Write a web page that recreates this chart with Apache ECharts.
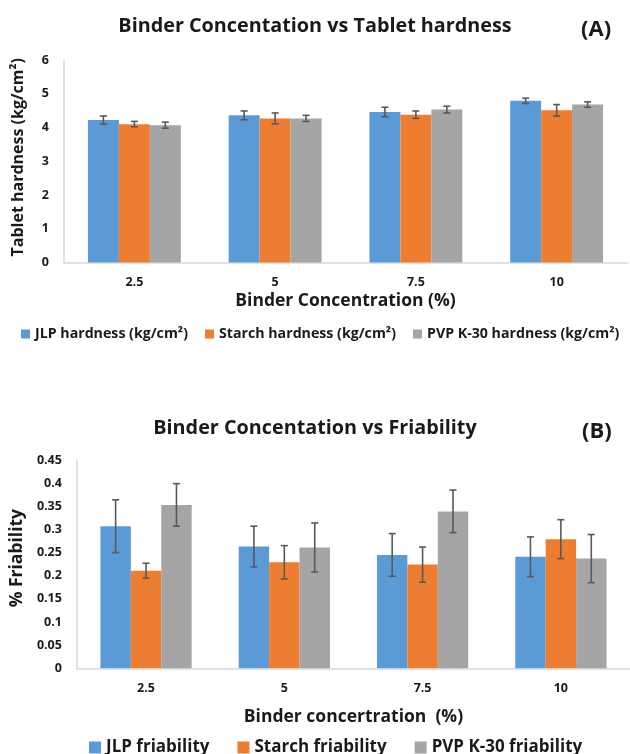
<!DOCTYPE html>
<html>
<head>
<meta charset="utf-8">
<script src="https://cdn.jsdelivr.net/npm/echarts@6/dist/echarts.min.js"></script>
<style>
  html, body { margin: 0; padding: 0; background: #fff; }
  #main { width: 630px; height: 754px; }
</style>
</head>
<body>
<div id="main"></div>
<script>
// categories (binder concentration %)
const categories = ['2.5', '5', '7.5', '10'];

// (A) tablet hardness, kg/cm2
const jlpHardness = [4.22, 4.36, 4.46, 4.79];
const jlpHardnessErr = [0.12, 0.13, 0.14, 0.08];
const starchHardness = [4.10, 4.27, 4.38, 4.51];
const starchHardnessErr = [0.08, 0.16, 0.11, 0.17];
const pvpHardness = [4.07, 4.27, 4.53, 4.68];
const pvpHardnessErr = [0.09, 0.09, 0.10, 0.08];

// (B) friability, %
const jlpFriab = [0.307, 0.263, 0.245, 0.241];
const jlpFriabErr = [0.057, 0.044, 0.046, 0.043];
const starchFriab = [0.211, 0.229, 0.224, 0.279];
const starchFriabErr = [0.016, 0.036, 0.038, 0.042];
const pvpFriab = [0.353, 0.261, 0.339, 0.237];
const pvpFriabErr = [0.046, 0.053, 0.046, 0.052];

const BLUE = '#5B9BD5', ORANGE = '#ED7D31', GRAY = '#A5A5A5';
const FONT = 'Open Sans';
const TEXT = '#1a1a1a';
const GAP = 0.34;

// build [index, low, high] rows for the error bars
const errRows = (vals, errs) => vals.map((v, i) => [i, v - errs[i], v + errs[i]]);

// error bar drawn at the bar's offset inside the group (-1, 0, 1)
const errorSeries = (vals, errs, offset, axisIdx) => ({
  type: 'custom',
  xAxisIndex: axisIdx,
  yAxisIndex: axisIdx,
  z: 10,
  silent: true,
  data: errRows(vals, errs),
  encode: { x: 0, y: [1, 2] },
  renderItem: (params, api) => {
    const hi = api.coord([api.value(0), api.value(2)]);
    const lo = api.coord([api.value(0), api.value(1)]);
    const bw = api.size([1, 0])[0] * (1 - GAP) / 3;
    const x = hi[0] + offset * bw;
    const cap = 3.5;
    const style = { stroke: '#595959', lineWidth: 1.6 };
    return {
      type: 'group',
      children: [
        { type: 'line', shape: { x1: x, y1: hi[1], x2: x, y2: lo[1] }, style },
        { type: 'line', shape: { x1: x - cap, y1: hi[1], x2: x + cap, y2: hi[1] }, style },
        { type: 'line', shape: { x1: x - cap, y1: lo[1], x2: x + cap, y2: lo[1] }, style }
      ]
    };
  }
});

const barSeries = (name, vals, color, axisIdx) => ({
  name: name,
  type: 'bar',
  xAxisIndex: axisIdx,
  yAxisIndex: axisIdx,
  data: vals,
  barGap: '0%',
  barCategoryGap: (GAP * 100) + '%',
  itemStyle: { color: color }
});

const axisLine = { show: true, lineStyle: { color: '#D9D9D9', width: 1.5 } };
const tickLabel = { color: TEXT, fontFamily: FONT, fontWeight: 'bold', fontSize: 12.5 };
const bold = (size, extra) => Object.assign({ color: TEXT, fontFamily: FONT, fontWeight: 'bold', fontSize: size }, extra || {});

const chart = echarts.init(document.getElementById('main'));
chart.setOption({
  animation: false,
  title: [
    { text: 'Binder Concentation vs Tablet hardness', left: 'center', top: 11, textStyle: bold(19.8) },
    { text: '(A)', left: 576, top: 14, textStyle: bold(22) },
    { text: 'Binder Concentation vs Friability', left: 'center', top: 413, textStyle: bold(19.8) },
    { text: '(B)', left: 577, top: 416, textStyle: bold(22) }
  ],
  legend: [
    { data: ['JLP hardness (kg/cm²)', 'Starch hardness (kg/cm²)', 'PVP K-30 hardness (kg/cm²)'],
      left: 16, top: 322, itemWidth: 9, itemHeight: 9, itemGap: 17, icon: 'rect',
      textStyle: bold(14.2) },
    { data: ['JLP friability', 'Starch friability', 'PVP K-30 friability'],
      left: 84, top: 734, itemWidth: 12, itemHeight: 12, itemGap: 28, icon: 'rect',
      textStyle: bold(17) }
  ],
  grid: [
    { left: 64, top: 60, width: 563, height: 202.5 },
    { left: 75, top: 460, width: 558, height: 208.3 }
  ],
  xAxis: [
    { type: 'category', gridIndex: 0, data: categories,
      axisLine: axisLine, axisTick: { show: false },
      axisLabel: Object.assign({ margin: 13 }, tickLabel),
      name: 'Binder Concentration (%)', nameLocation: 'middle', nameGap: 30,
      nameTextStyle: bold(17.5) },
    { type: 'category', gridIndex: 1, data: categories,
      axisLine: axisLine, axisTick: { show: false },
      axisLabel: Object.assign({ margin: 14 }, tickLabel),
      name: 'Binder concertration  (%)', nameLocation: 'middle', nameGap: 40,
      nameTextStyle: bold(17.5) }
  ],
  yAxis: [
    { type: 'value', gridIndex: 0, min: 0, max: 6, interval: 1,
      axisLine: axisLine, splitLine: { show: false },
      axisLabel: Object.assign({ margin: 15 }, tickLabel),
      name: 'Tablet hardness (kg/cm²)', nameLocation: 'middle', nameGap: 38,
      nameTextStyle: bold(16, { padding: [0, 0, 0, 8] }) },
    { type: 'value', gridIndex: 1, min: 0, max: 0.45, interval: 0.05,
      axisLine: axisLine, splitLine: { show: false },
      axisLabel: Object.assign({ margin: 15, formatter: v => String(+v.toFixed(2)) }, tickLabel),
      name: '% Friability', nameLocation: 'middle', nameGap: 49,
      nameTextStyle: bold(17.5, { padding: [0, 0, 0, 12] }) }
  ],
  series: [
    barSeries('JLP hardness (kg/cm²)', jlpHardness, BLUE, 0),
    barSeries('Starch hardness (kg/cm²)', starchHardness, ORANGE, 0),
    barSeries('PVP K-30 hardness (kg/cm²)', pvpHardness, GRAY, 0),
    errorSeries(jlpHardness, jlpHardnessErr, -1, 0),
    errorSeries(starchHardness, starchHardnessErr, 0, 0),
    errorSeries(pvpHardness, pvpHardnessErr, 1, 0),
    barSeries('JLP friability', jlpFriab, BLUE, 1),
    barSeries('Starch friability', starchFriab, ORANGE, 1),
    barSeries('PVP K-30 friability', pvpFriab, GRAY, 1),
    errorSeries(jlpFriab, jlpFriabErr, -1, 1),
    errorSeries(starchFriab, starchFriabErr, 0, 1),
    errorSeries(pvpFriab, pvpFriabErr, 1, 1)
  ]
});
</script>
</body>
</html>
